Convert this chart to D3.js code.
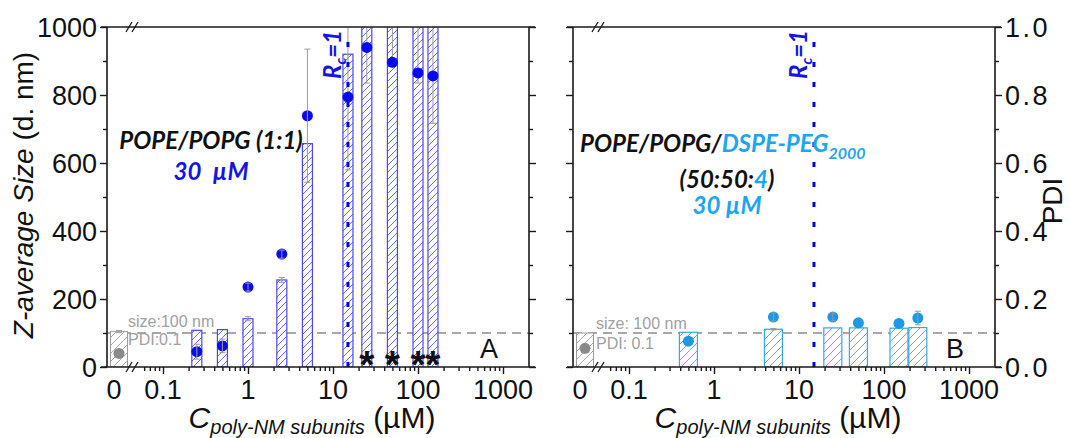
<!DOCTYPE html>
<html><head><meta charset="utf-8">
<script src="https://cdn.jsdelivr.net/npm/d3@7/dist/d3.min.js"></script>
<style>
body{margin:0;background:#fff}
svg{display:block}
.num{font-family:"Liberation Sans",Arial,sans-serif;font-size:27px;fill:#111}
.ann{font-family:Lato,"Open Sans",sans-serif;font-weight:bold;font-style:italic}
</style>
</head><body>
<svg id="chart" width="1070" height="438"></svg>
<script>
// ---------- data (panel A: POPE/POPG 1:1) ----------
const concA    = [0.25, 0.5, 1, 2.5, 5, 15, 25, 50, 100, 150];
const sizeA    = [108, 110, 142, 256, 657, 920, 1150, 1150, 1150, 1150];
const sizeErrA = [0, 0, 6, 7, 0, 340, 315, 250, 315, 433];
const pdiA     = [0.045, 0.062, 0.235, 0.332, 0.739, 0.794, 0.940, 0.896, 0.865, 0.856];
const pdiErrA  = [0.022, 0.02, 0.012, 0.012, 0.196, 0.005, 0.005, 0.005, 0.005, 0.005];
const starConcA = [25, 50, 100, 150];
// ---------- data (panel B: POPE/POPG/DSPE-PEG2000 50:50:4) ----------
const concB    = [0.5, 5, 25, 50, 150, 250];
const sizeB    = [102, 111, 115, 115, 114, 116];
const sizeErrB = [0, 2, 0, 0, 0, 0];
const pdiB     = [0.076, 0.147, 0.147, 0.130, 0.128, 0.144];
const pdiErrB  = [0.004, 0.012, 0.012, 0.004, 0.004, 0.02];
// ---------- control (no polymer, C = 0) ----------
const ctrlSize = [104, 100];
const ctrlSizeErr = [3, 0];
const ctrlPdi  = [0.040, 0.055];
// ---------- references ----------
const refSize = 100, refPdi = 0.1;
const rcConc = 15;
// ---------- ticks / labels ----------
const sizeTicks = [0, 200, 400, 600, 800, 1000];
const sizeMinor = [100, 300, 500, 700, 900];
const pdiTicks = [0, 0.2, 0.4, 0.6, 0.8, 1.0];
const pdiMinor = [0.1, 0.3, 0.5, 0.7, 0.9];
const xMajor = [0.1, 1, 10, 100, 1000];
const xMajorLabels = ["0.1", "1", "10", "100", "1000"];
const xZeroLabel = "0";
const xMinor = [0.06,0.07,0.08,0.09, 0.2,0.3,0.4,0.5,0.6,0.7,0.8,0.9, 2,3,4,5,6,7,8,9, 20,30,40,50,60,70,80,90, 200,300,400,500,600,700,800,900];
const panelLetters = ["A", "B"];

const svg = d3.select("#chart");
const defs = svg.append("defs");
function hatch(id, color, s, w) {
  const p = defs.append("pattern").attr("id", id).attr("patternUnits", "userSpaceOnUse")
    .attr("width", s).attr("height", s);
  p.append("path")
    .attr("d", `M${-s/4},${s/4}L${s/4},${-s/4}M0,${s}L${s},0M${3*s/4},${5*s/4}L${5*s/4},${3*s/4}`)
    .attr("stroke", color).attr("stroke-width", w).attr("fill", "none");
}
hatch("hBlue", "#6a6af2", 7, 1);
hatch("hLight", "#59b6ec", 8, 1);
hatch("hGray", "#a6a6a6", 8, 1);

const yTop = 27, yBot = 367;
const ySize = d3.scaleLinear().domain([0, 1000]).range([yBot, yTop]);
const yPdi = d3.scaleLinear().domain([0, 1]).range([yBot, yTop]);

const panels = [
  { L: 107, R: 529, conc: concA, size: sizeA, sizeErr: sizeErrA, pdi: pdiA, pdiErr: pdiErrA,
    barW: 10, stroke: "#4848f0", fill: "url(#hBlue)", dot: "#0a0af0", stars: starConcA },
  { L: 573, R: 995, conc: concB, size: sizeB, sizeErr: sizeErrB, pdi: pdiB, pdiErr: pdiErrB,
    barW: 18, stroke: "#35a8ec", fill: "url(#hLight)", dot: "#1e97e6", stars: [] }
];

function errBar(g, x, y0, y1, cap) {
  g.append("line").attr("x1", x).attr("x2", x).attr("y1", y0).attr("y2", y1)
    .attr("stroke", "#9a9a9a").attr("stroke-width", 1);
  [y0, y1].forEach(y => g.append("line").attr("x1", x - cap/2).attr("x2", x + cap/2)
    .attr("y1", y).attr("y2", y).attr("stroke", "#9a9a9a").attr("stroke-width", 1));
}

panels.forEach((p, i) => {
  const x = d3.scaleLog().domain([0.1, 1000]).range([p.L + 56, p.L + 396]);
  const x0 = d3.scaleBand().domain([xZeroLabel]).range([p.L + 1, p.L + 23]);
  const g = svg.append("g");
  const cid = "clip" + i;
  defs.append("clipPath").attr("id", cid).append("rect")
    .attr("x", p.L).attr("y", yTop).attr("width", p.R - p.L).attr("height", yBot - yTop);
  const pg = g.append("g").attr("clip-path", `url(#${cid})`);

  // reference dashed line (size 100 nm / PDI 0.1)
  pg.append("line").attr("x1", p.L).attr("x2", p.R).attr("y1", ySize(refSize)).attr("y2", ySize(refSize))
    .attr("stroke", "#8c8c8c").attr("stroke-width", 1.6).attr("stroke-dasharray", "9,6");

  // control bar
  const cx = x0(xZeroLabel) + x0.bandwidth() / 2;
  pg.append("rect").attr("x", cx - 8.5).attr("width", 17)
    .attr("y", ySize(ctrlSize[i])).attr("height", yBot - ySize(ctrlSize[i]))
    .attr("fill", "#fff");
  pg.append("rect").attr("x", cx - 8.5).attr("width", 17)
    .attr("y", ySize(ctrlSize[i])).attr("height", yBot - ySize(ctrlSize[i]))
    .attr("fill", "url(#hGray)").attr("stroke", "#9d9d9d").attr("stroke-width", 1);
  if (ctrlSizeErr[i] > 0) errBar(pg, cx, ySize(ctrlSize[i] - ctrlSizeErr[i]), ySize(ctrlSize[i] + ctrlSizeErr[i]), 6);
  pg.append("circle").attr("cx", cx).attr("cy", yPdi(ctrlPdi[i])).attr("r", 5.5).attr("fill", "#8a8a8a");

  // bars
  const idx = d3.range(p.conc.length);
  pg.selectAll(".bg").data(idx).join("rect")
    .attr("x", d => x(p.conc[d]) - p.barW / 2).attr("width", p.barW)
    .attr("y", d => ySize(p.size[d])).attr("height", d => yBot - ySize(p.size[d]))
    .attr("fill", "#fff");
  pg.selectAll(".bar").data(idx).join("rect")
    .attr("x", d => x(p.conc[d]) - p.barW / 2).attr("width", p.barW)
    .attr("y", d => ySize(p.size[d])).attr("height", d => yBot - ySize(p.size[d]))
    .attr("fill", p.fill).attr("stroke", p.stroke).attr("stroke-width", 1.2);
  idx.forEach(d => {
    if (p.sizeErr[d] > 0) errBar(pg, x(p.conc[d]), ySize(p.size[d] - p.sizeErr[d]), ySize(p.size[d] + p.sizeErr[d]), 6);
  });

  // PDI dots
  pg.selectAll(".dot").data(idx).join("circle")
    .attr("cx", d => x(p.conc[d])).attr("cy", d => yPdi(p.pdi[d])).attr("r", 5.5).attr("fill", p.dot);
  idx.forEach(d => {
    if (p.pdiErr[d] > 0.006) errBar(pg, x(p.conc[d]), yPdi(p.pdi[d] - p.pdiErr[d]), yPdi(p.pdi[d] + p.pdiErr[d]), 6);
  });

  // Rc = 1 line
  const rx = x(rcConc);
  pg.append("line").attr("x1", rx).attr("x2", rx).attr("y1", yBot).attr("y2", yTop)
    .attr("stroke", "#0000f0").attr("stroke-width", 3).attr("stroke-dasharray", "5,15");
  const rt = g.append("text").attr("class", "ann").attr("transform", `translate(${rx - 7},79) rotate(-90)`)
    .attr("fill", "#1414e6").attr("font-size", 24);
  rt.append("tspan").text("R");
  rt.append("tspan").attr("font-size", 15).attr("dy", 5).text("c");
  rt.append("tspan").attr("dy", -5).text("=1");

  // asterisks
  g.selectAll(".star").data(p.stars).join("text")
    .attr("x", d => x(d)).attr("y", 378).attr("text-anchor", "middle")
    .attr("font-family", "Liberation Sans, Arial, sans-serif").attr("font-weight", "bold")
    .attr("font-size", 39).attr("fill", "#111").text("*");

  // frame lines
  const ax = g.append("g").attr("stroke", "#1a1a1a").attr("stroke-width", 1.6);
  ax.append("line").attr("x1", p.L - 6).attr("x2", p.R + 6).attr("y1", yBot).attr("y2", yBot);
  ax.append("line").attr("x1", p.L - 6).attr("x2", p.R + 6).attr("y1", yTop).attr("y2", yTop);
  ax.append("line").attr("x1", p.L).attr("x2", p.L).attr("y1", yTop).attr("y2", yBot);
  ax.append("line").attr("x1", p.R).attr("x2", p.R).attr("y1", yTop).attr("y2", yBot);
  // axis breaks
  [yTop, yBot].forEach(yy => {
    const bx = p.L + 26;
    ax.append("path").attr("d", `M${bx-7},${yy+5}L${bx-1},${yy-5}M${bx-1},${yy+5}L${bx+5},${yy-5}`)
      .attr("fill", "none").attr("stroke-width", 1.3);
  });

  // x axis ticks
  const xa = g.append("g").attr("transform", `translate(0,${yBot})`);
  xa.call(d3.axisBottom(x).tickValues(xMajor).tickSize(7).tickFormat(""));
  xa.call(g2 => g2.select(".domain").remove());
  const xm = g.append("g").attr("transform", `translate(0,${yBot})`);
  xm.call(d3.axisBottom(x).tickValues(xMinor).tickSize(4).tickFormat(""));
  xm.select(".domain").remove();
  g.selectAll(".tick line").attr("stroke", "#1a1a1a").attr("stroke-width", 1.4);
  g.selectAll(".xlab").data(xMajor).join("text").attr("class", "num")
    .attr("x", d => x(d)).attr("y", 399).attr("text-anchor", "middle")
    .text((d, k) => xMajorLabels[k]);
  g.append("text").attr("class", "num").attr("x", cx - 5).attr("y", 399).attr("text-anchor", "middle").text(xZeroLabel);

  // x title
  const xt = g.append("text").attr("x", (p.L + p.R) / 2 - 6).attr("y", 428).attr("text-anchor", "middle")
    .attr("font-family", "Liberation Sans, Arial, sans-serif").attr("font-size", 30).attr("fill", "#111");
  xt.append("tspan").attr("font-style", "italic").text("C");
  xt.append("tspan").attr("font-style", "italic").attr("font-size", 20).attr("dy", 6).text("poly-NM subunits");
  xt.append("tspan").attr("dy", -6).text(" (µM)");

  // y axes
  const yl = g.append("g").attr("transform", `translate(${p.L},0)`);
  const yr = g.append("g").attr("transform", `translate(${p.R},0)`);
  if (i === 0) {
    yl.call(d3.axisLeft(ySize).tickValues(sizeTicks).tickSize(7).tickPadding(3).tickFormat(d3.format("d")));
    yl.append("g").call(d3.axisLeft(ySize).tickValues(sizeMinor).tickSize(4).tickFormat(""));
    yr.call(d3.axisRight(ySize).tickValues(sizeTicks).tickSize(7).tickFormat(""));
    yr.append("g").call(d3.axisRight(ySize).tickValues(sizeMinor).tickSize(4).tickFormat(""));
    yl.selectAll("text").attr("class", "num").attr("font-size", null).attr("font-family", null).attr("fill", null).attr("dy", "0.36em");
  } else {
    yl.call(d3.axisLeft(yPdi).tickValues(pdiTicks).tickSize(7).tickFormat(""));
    yl.append("g").call(d3.axisLeft(yPdi).tickValues(pdiMinor).tickSize(4).tickFormat(""));
    yr.call(d3.axisRight(yPdi).tickValues(pdiTicks).tickSize(7).tickPadding(3).tickFormat(d3.format(".1f")));
    yr.append("g").call(d3.axisRight(yPdi).tickValues(pdiMinor).tickSize(4).tickFormat(""));
    yr.selectAll("text").attr("class", "num").attr("font-size", null).attr("font-family", null).attr("fill", null)
      .attr("dy", "0.36em").attr("letter-spacing", 2.5);
  }
  [yl, yr].forEach(a => {
    a.selectAll(".domain").remove();
    a.selectAll("line").attr("stroke", "#1a1a1a").attr("stroke-width", 1.4);
  });

  // reference labels
  const rl = g.append("g").attr("font-family", "Liberation Sans, Arial, sans-serif").attr("font-size", 16).attr("fill", "#a0a0a0");
  rl.append("text").attr("x", p.L + (i ? 23 : 21)).attr("y", i ? 329 : 327).text(i ? "size: 100 nm" : "size:100 nm");
  rl.append("text").attr("x", p.L + (i ? 23 : 21)).attr("y", i ? 349 : 345).text(i ? "PDI: 0.1" : "PDI:0.1");

  // panel letter
  g.append("text").attr("class", "num").attr("font-size", 36).attr("x", p.L + 382).attr("y", 358)
    .attr("text-anchor", "middle").text(panelLetters[i]);
});

// axis titles
const yt = svg.append("text").attr("transform", "translate(33,195) rotate(-90)").attr("text-anchor", "middle")
  .attr("font-family", "Liberation Sans, Arial, sans-serif").attr("font-size", 28).attr("fill", "#111");
yt.append("tspan").attr("font-style", "italic").text("Z-average Size");
yt.append("tspan").text(" (d. nm)");
svg.append("text").attr("transform", "translate(1062,201) rotate(-90)").attr("text-anchor", "middle")
  .attr("font-family", "Liberation Sans, Arial, sans-serif").attr("font-size", 28).attr("fill", "#111").text("PDI");

// annotations panel A
svg.append("text").attr("class", "ann").attr("x", 211).attr("y", 149).attr("text-anchor", "middle")
  .attr("font-size", 24).attr("fill", "#111").text("POPE/POPG (1:1)");
svg.append("text").attr("class", "ann").attr("x", 211).attr("y", 180).attr("text-anchor", "middle")
  .attr("font-size", 24).attr("fill", "#1414e6").attr("word-spacing", 6).text("30 µM");
// annotations panel B
const lb = "#1ea5f2";
const t1 = svg.append("text").attr("class", "ann").attr("x", 580).attr("y", 152).attr("font-size", 24).attr("fill", "#111");
t1.append("tspan").text("POPE/POPG/");
t1.append("tspan").attr("fill", lb).text("DSPE-PEG");
t1.append("tspan").attr("fill", lb).attr("font-size", 16).attr("dy", 7).text("2000");
const t2 = svg.append("text").attr("class", "ann").attr("x", 727).attr("y", 188).attr("text-anchor", "middle")
  .attr("font-size", 24).attr("fill", "#111");
t2.append("tspan").text("(50:50:");
t2.append("tspan").attr("fill", lb).text("4");
t2.append("tspan").text(")");
svg.append("text").attr("class", "ann").attr("x", 727).attr("y", 214).attr("text-anchor", "middle")
  .attr("font-size", 24).attr("fill", lb).text("30 µM");
</script>
</body></html>
